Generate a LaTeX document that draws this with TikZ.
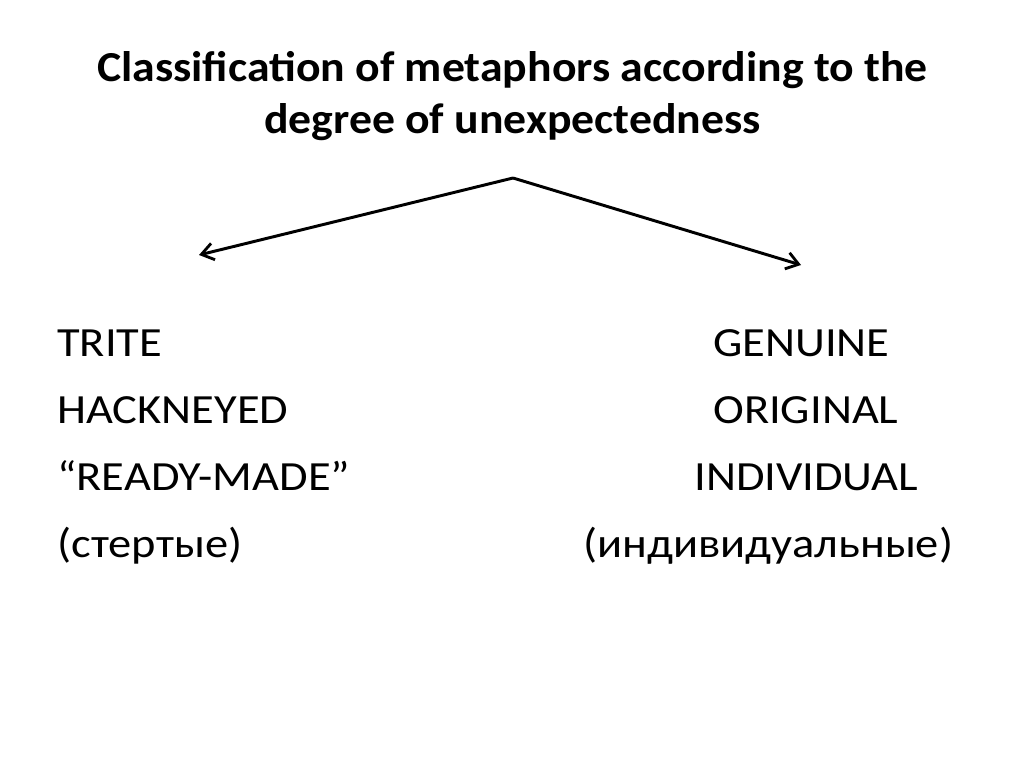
\documentclass[tikz,border=0pt]{standalone}
\usepackage{fontspec}
\setmainfont{Carlito}
\newfontfamily\headfont{Carlito}[Ligatures=TeX, FakeStretch=1.07]
\newfontfamily\itemfont{Carlito}[Ligatures=TeX, FakeStretch=1.12]
\usepackage{xcolor}
\usetikzlibrary{arrows.meta, positioning}
\definecolor{inkA}{HTML}{000000}
\tikzset{
  heading/.style={
    align=center, inner sep=0pt, text=inkA,
    font=\headfont\fontsize{30.4}{37}\selectfont\bfseries
  },
  item/.style={
    anchor=base west, inner sep=0pt, text=inkA,
    font=\itemfont\fontsize{29.5}{35}\selectfont
  },
  branch/.style={-{Straight Barb[length=3mm, width=4.2mm, line width=2pt]}, line width=2.1pt, color=inkA}
}
\begin{document}
\begin{tikzpicture}[x=0.025cm, y=-0.025cm]
  \useasboundingbox (0,0) rectangle (1024,767);
  \node[heading] (title) at (512.5,96) {
    Classification of metaphors according to the\\
    degree of unexpectedness
  };
  \coordinate (apex) at (513,178);
  \coordinate (lefttip) at (199,255);
  \coordinate (righttip) at (801,265);
  % left column
  \node[item] (trite) at (57,356) {TRITE};
  \node[item] (hackneyed) at (57,423) {HACKNEYED};
  \node[item] (readymade) at (57,490) {“READY-MADE”};
  \node[item] (stertye) at (57,557) {(стертые)};
  % right column
  \node[item] (genuine) at (713,356) {GENUINE};
  \node[item] (original) at (713,423) {ORIGINAL};
  \node[item] (individual) at (694,490) {INDIVIDUAL};
  \node[item] (individualnye) at (583,557) {(индивидуальные)};
  \draw[branch, line join=miter] (apex) -- (lefttip);
  \draw[branch] (apex) -- (righttip);
\end{tikzpicture}
\end{document}
